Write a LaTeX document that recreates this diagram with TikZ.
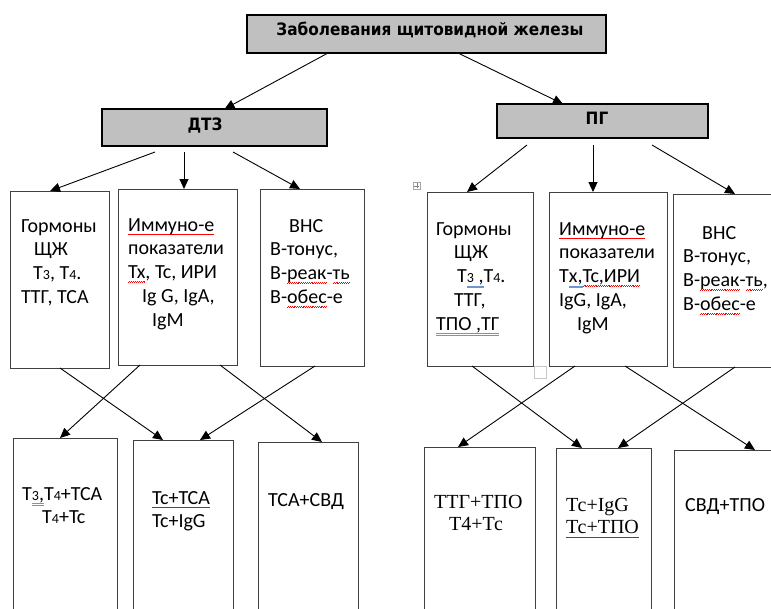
\documentclass[tikz,border=0pt]{standalone}
\usepackage{fontspec}
\setmainfont{Carlito}
\newfontfamily\dejavu{DejaVu Sans Condensed}
\newfontfamily\tnr{Liberation Serif}
\usetikzlibrary{arrows.meta}
\definecolor{boxgray}{RGB}{192,192,192}
\definecolor{edge}{RGB}{64,64,64}
\definecolor{spellblue}{RGB}{110,150,210}
\newsavebox\ulbox
\newcommand\waveunit{\rule[-3.9pt]{0.9pt}{0.6pt}\rule[-3.3pt]{0.9pt}{0.6pt}}
\newcommand\rw[1]{\sbox\ulbox{#1}\rlap{\textcolor{red}{\hbox to\wd\ulbox{\xleaders\hbox{\waveunit}\hfill}}}\usebox\ulbox}
\newcommand\bu[1]{\sbox\ulbox{#1}\rlap{\textcolor{spellblue}{\rule[-3.6pt]{\wd\ulbox}{0.4pt}\kern-\wd\ulbox\rule[-4.8pt]{\wd\ulbox}{0.4pt}}}\usebox\ulbox}
\newcommand\sm[1]{{\fontsize{14}{14}\selectfont #1}}
\tikzset{
 hbox/.style={draw=black, line width=1.2pt, fill=boxgray, anchor=north west, inner sep=0, outer sep=0},
 cbox/.style={draw=edge, line width=0.8pt, anchor=north west, inner sep=0, outer sep=0},
 arr/.style={-{Triangle[length=10pt,width=9pt]}, line width=0.9pt, black},
 htxt/.style={font=\dejavu\bfseries\fontsize{17}{20}\selectfont, inner sep=0, anchor=base},
 ctxt/.style={font=\fontsize{20}{23.8}\selectfont, align=left, inner sep=0, anchor=north west},
 ttxt/.style={font=\tnr\fontsize{20}{22.5}\selectfont, align=left, inner sep=0, anchor=north west},
}
\begin{document}
\begin{tikzpicture}[x=1pt,y=-1pt]
\useasboundingbox (0,0) rectangle (771,608);
\clip (0,0) rectangle (771,608);
% header boxes
\node[hbox, minimum width=359pt, minimum height=38pt] (T) at (247,15) {};
\node[htxt] (Tt) at (430,35) {Заболевания щитовидной железы};
\node[hbox, minimum width=225pt, minimum height=37pt] (D) at (102,109) {};
\node[htxt] (Dt) at (205,130) {ДТЗ};
\node[hbox, minimum width=211pt, minimum height=34pt] (P) at (497,104) {};
\node[htxt] (Pt) at (597,124) {ПГ};
% middle boxes
\node[cbox, minimum width=99pt, minimum height=177pt] (d1) at (10,191) {};
\node[cbox, minimum width=119pt, minimum height=176pt] (d2) at (118,189) {};
\node[cbox, minimum width=104pt, minimum height=177pt] (d3) at (260,189) {};
\node[cbox, minimum width=106pt, minimum height=174pt] (p1) at (427,192) {};
\node[cbox, minimum width=118pt, minimum height=174pt] (p2) at (549,192) {};
\node[cbox, minimum width=112pt, minimum height=173pt] (p3) at (673,194) {};
% bottom boxes
\node[cbox, minimum width=104pt, minimum height=190pt] (b1) at (13,438) {};
\node[cbox, minimum width=100pt, minimum height=190pt] (b2) at (133,440) {};
\node[cbox, minimum width=100pt, minimum height=190pt] (b3) at (258,442) {};
\node[cbox, minimum width=111pt, minimum height=190pt] (q1) at (424,447) {};
\node[cbox, minimum width=95pt, minimum height=190pt] (q2) at (556,448) {};
\node[cbox, minimum width=111pt, minimum height=190pt] (q3) at (674,450) {};
% word artefacts
\node[draw=gray!70, line width=0.4pt, minimum size=7pt, inner sep=0, anchor=north west] (mv) at (413,182) {};
\draw[gray, line width=0.4pt] ([yshift=-1pt]mv.north) -- ([yshift=1pt]mv.south) ([xshift=1pt]mv.west) -- ([xshift=-1pt]mv.east);
\node[draw=gray!45, line width=0.6pt, minimum size=12pt, inner sep=0, anchor=north west] (rs) at (534,366) {};
% texts
\node[ctxt] (d1t) at (21,219) {Гормоны\\\hspace*{13pt}ЩЖ\\\hspace*{12pt}Т{\sm 3}, Т{\sm 4}.\\ТТГ, ТСА};
\node[ctxt] (d2t) at (128,218) {\rw{Иммуно-е}\\показатели\\\rw{Тх}, Тс, ИРИ\\\hspace*{14pt}Ig G, IgA,\\\hspace*{24pt}IgM};
\node[ctxt] (d3t) at (270,219) {\hspace*{19pt}ВНС\\В-тонус,\\В-\rw{реак}-\rw{ть}\\В-\rw{обес}-е};
\node[ctxt] (p1t) at (436,222) {Гормоны\\\hspace*{18pt}ЩЖ\\\hspace*{21pt}Т\bu{{\sm 3} ,}Т{\sm 4}.\\\hspace*{18pt}ТТГ,\\\bu{ТПО ,ТГ}};
\node[ctxt] (p2t) at (559,222) {\rw{Иммуно-е}\\показатели\\Т\bu{х,}\rw{Тс,ИРИ}\\IgG, IgA,\\\hspace*{18pt}IgM};
\node[ctxt] (p3t) at (683,226) {\hspace*{19pt}ВНС\\В-тонус,\\В-\rw{реак}-\rw{ть},\\В-\rw{обес}-е};
\node[ctxt] (b1t) at (22,487) {Т\bu{{\sm 3},}Т{\sm 4}+ТСА\\\hspace*{20pt}Т{\sm 4}+Тс};
\node[ctxt] (b2t) at (152,491) {\rw{Тс+ТСА}\\Тс+IgG};
\node[ctxt] (b3t) at (268,493) {ТСА+СВД};
\node[ttxt] (q1t) at (434,495) {ТТГ+ТПО\\\hspace*{15pt}Т4+Тс};
\node[ttxt] (q2t) at (566,498) {Тс+IgG\\\rw{Тс+ТПО}};
\node[ctxt] (q3t) at (685,498) {СВД+ТПО};
% arrows from title
\draw[arr] ([xshift=81pt]T.south west) -- ([xshift=10pt]D.north);
\draw[arr] ([xshift=211pt]T.south west) -- ([xshift=66pt]P.north west);
% DTZ
\draw[arr] ([xshift=53pt,yshift=-6pt]D.south west) -- ([xshift=40pt]d1.north west);
\draw[arr] ([xshift=82pt,yshift=-6pt]D.south west) -- ([xshift=66pt]d2.north west);
\draw[arr] ([xshift=131pt,yshift=-6pt]D.south west) -- ([xshift=40pt]d3.north west);
% PG
\draw[arr] ([xshift=30pt,yshift=-7pt]P.south west) -- ([xshift=40pt]p1.north west);
\draw[arr] ([xshift=96pt,yshift=-7pt]P.south west) -- ([xshift=44pt]p2.north west);
\draw[arr] ([xshift=155pt,yshift=-7pt]P.south west) -- ([xshift=62pt]p3.north west);
% DTZ crossings
\draw[arr] ([xshift=50pt]d1.south west) -- ([xshift=30pt]b2.north west);
\draw[arr] ([xshift=22pt]d2.south west) -- ([xshift=47pt]b1.north west);
\draw[arr] ([xshift=102pt]d2.south west) -- ([xshift=64pt]b3.north west);
\draw[arr] ([xshift=55pt]d3.south west) -- ([xshift=67pt]b2.north west);
% PG crossings
\draw[arr] ([xshift=45pt]p1.south west) -- ([xshift=26pt]q2.north west);
\draw[arr] ([xshift=26pt]p2.south west) -- ([xshift=34pt]q1.north west);
\draw[arr] ([xshift=76pt]p2.south west) -- ([xshift=81pt]q3.north west);
\draw[arr] ([xshift=62pt]p3.south west) -- ([xshift=62pt]q2.north west);
\end{tikzpicture}
\end{document}
